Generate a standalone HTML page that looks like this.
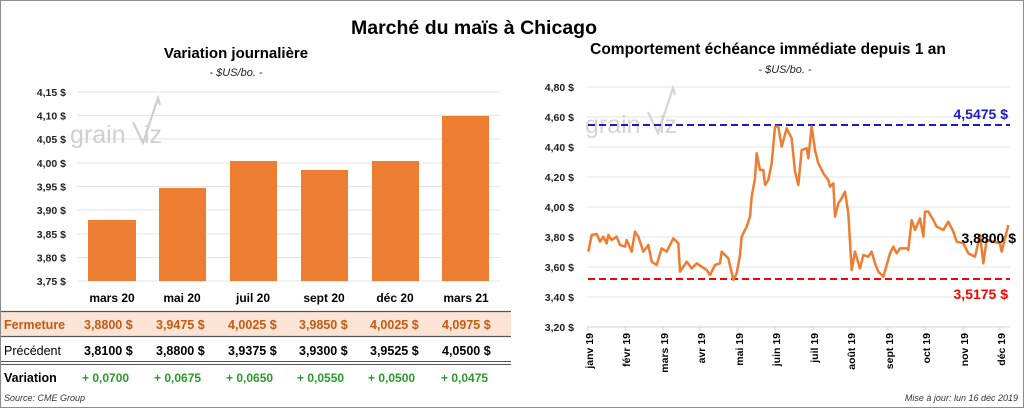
<!DOCTYPE html>
<html><head><meta charset="utf-8"><style>
body{margin:0;background:#fff}
svg{display:block;font-family:"Liberation Sans",sans-serif}
</style></head><body>
<svg width="1024" height="408" viewBox="0 0 1024 408">
<rect x="0.5" y="0.5" width="1023" height="407" fill="#fff" stroke="#8c8c8c"/>
<text x="474" y="34" font-size="19.5" font-weight="bold" text-anchor="middle" fill="#000">Marché du maïs à Chicago</text>
<!-- LEFT -->
<text x="236" y="58" font-size="15" font-weight="bold" text-anchor="middle">Variation  journalière</text>
<text x="236" y="76" font-size="11" font-style="italic" text-anchor="middle" fill="#222">- $US/bo. -</text>
<g stroke="#e3e3e3" stroke-width="1">
<line x1="77" x2="500" y1="92" y2="92"/><line x1="77" x2="500" y1="115.5" y2="115.5"/><line x1="77" x2="500" y1="139" y2="139"/><line x1="77" x2="500" y1="163" y2="163"/><line x1="77" x2="500" y1="186.5" y2="186.5"/><line x1="77" x2="500" y1="210" y2="210"/><line x1="77" x2="500" y1="234" y2="234"/><line x1="77" x2="500" y1="257.5" y2="257.5"/><line x1="77" x2="500" y1="281" y2="281"/>
</g>
<g font-size="10.5" font-weight="bold" text-anchor="end" fill="#222">
<text x="66" y="96">4,15 $</text><text x="66" y="119.5">4,10 $</text><text x="66" y="143">4,05 $</text><text x="66" y="167">4,00 $</text><text x="66" y="190.5">3,95 $</text><text x="66" y="214">3,90 $</text><text x="66" y="238">3,85 $</text><text x="66" y="261.5">3,80 $</text><text x="66" y="285">3,75 $</text>
</g>
<g fill="#cfcfcf"><text x="70" y="143" font-size="25">grain</text><text x="144" y="143" font-size="25">iz</text></g>
<polyline points="133,122 143,143 158,98 160,105" fill="none" stroke="#cfcfcf" stroke-width="2.2"/>
<g fill="#ed7d31">
<rect x="88" y="220" width="48" height="61"/><rect x="159" y="188" width="47" height="93"/><rect x="230" y="161" width="47" height="120"/><rect x="301" y="170" width="47" height="111"/><rect x="372" y="161" width="47" height="120"/><rect x="442" y="116" width="47" height="165"/>
</g>
<g font-size="12" font-weight="bold" text-anchor="middle">
<text x="112" y="302">mars 20</text><text x="182" y="302">mai 20</text><text x="253" y="302">juil 20</text><text x="324" y="302">sept 20</text><text x="395" y="302">déc 20</text><text x="466" y="302">mars 21</text>
</g>
<rect x="1" y="312" width="510" height="24" fill="#fbe3d5"/>
<line x1="1" x2="511" y1="311.5" y2="311.5" stroke="#555" stroke-width="1.2"/>
<line x1="1" x2="511" y1="336.5" y2="336.5" stroke="#555" stroke-width="1.2"/>
<line x1="1" x2="511" y1="361.5" y2="361.5" stroke="#555" stroke-width="1"/>
<line x1="1" x2="511" y1="364.5" y2="364.5" stroke="#555" stroke-width="1"/>
<g font-size="12.5" font-weight="bold" fill="#c55a11">
<text x="4" y="329">Fermeture</text>
<text x="84" y="329">3,8800  $</text><text x="156" y="329">3,9475  $</text><text x="228" y="329">4,0025  $</text><text x="299" y="329">3,9850  $</text><text x="370" y="329">4,0025  $</text><text x="442" y="329">4,0975  $</text>
</g>
<text x="4" y="355" font-size="12.5">Précédent</text>
<g font-size="12.5" font-weight="bold">
<text x="84" y="355">3,8100  $</text><text x="156" y="355">3,8800  $</text><text x="228" y="355">3,9375  $</text><text x="299" y="355">3,9300  $</text><text x="370" y="355">3,9525  $</text><text x="442" y="355">4,0500  $</text>
<text x="4" y="382">Variation</text>
</g>
<g font-size="12" font-weight="bold" fill="#2a9a2a">
<text x="82" y="382">+ 0,0700</text><text x="154" y="382">+ 0,0675</text><text x="226" y="382">+ 0,0650</text><text x="297" y="382">+ 0,0550</text><text x="368" y="382">+ 0,0500</text><text x="441" y="382">+ 0,0475</text>
</g>
<text x="4" y="401" font-size="9" font-style="italic" fill="#333">Source: CME Group</text>
<!-- RIGHT -->
<text x="768" y="54" font-size="15.5" font-weight="bold" text-anchor="middle">Comportement  échéance immédiate depuis 1 an</text>
<text x="785" y="73" font-size="11" font-style="italic" text-anchor="middle" fill="#222">- $US/bo. -</text>
<g stroke="#e3e3e3">
<line x1="587" x2="1010" y1="87" y2="87"/><line x1="587" x2="1010" y1="117" y2="117"/><line x1="587" x2="1010" y1="147" y2="147"/><line x1="587" x2="1010" y1="177" y2="177"/><line x1="587" x2="1010" y1="207" y2="207"/><line x1="587" x2="1010" y1="237" y2="237"/><line x1="587" x2="1010" y1="267" y2="267"/><line x1="587" x2="1010" y1="297" y2="297"/>
</g>
<line x1="587" x2="1010" y1="327" y2="327" stroke="#d0d0d0"/>
<g stroke="#d0d0d0"><line x1="588" x2="588" y1="327" y2="331"/><line x1="625" x2="625" y1="327" y2="331"/><line x1="663" x2="663" y1="327" y2="331"/><line x1="700" x2="700" y1="327" y2="331"/><line x1="738" x2="738" y1="327" y2="331"/><line x1="775" x2="775" y1="327" y2="331"/><line x1="813" x2="813" y1="327" y2="331"/><line x1="850" x2="850" y1="327" y2="331"/><line x1="888" x2="888" y1="327" y2="331"/><line x1="925" x2="925" y1="327" y2="331"/><line x1="963" x2="963" y1="327" y2="331"/><line x1="1000" x2="1000" y1="327" y2="331"/></g>
<g font-size="10.5" font-weight="bold" text-anchor="end" fill="#222">
<text x="574" y="91">4,80 $</text><text x="574" y="121">4,60 $</text><text x="574" y="151">4,40 $</text><text x="574" y="181">4,20 $</text><text x="574" y="211">4,00 $</text><text x="574" y="241">3,80 $</text><text x="574" y="271">3,60 $</text><text x="574" y="301">3,40 $</text><text x="574" y="331">3,20 $</text>
</g>
<g fill="#d4d4d4"><text x="585" y="133" font-size="25">grain</text><text x="659" y="133" font-size="25">iz</text></g>
<polyline points="648,112 658,133 673,88 675,95" fill="none" stroke="#d4d4d4" stroke-width="2.2"/>
<g font-size="10.5" font-weight="bold" text-anchor="end">
<text transform="translate(593,333) rotate(-90)">janv 19</text><text transform="translate(630,333) rotate(-90)">févr 19</text><text transform="translate(668,333) rotate(-90)">mars 19</text><text transform="translate(705,333) rotate(-90)">avr 19</text><text transform="translate(743,333) rotate(-90)">mai 19</text><text transform="translate(780,333) rotate(-90)">juin 19</text><text transform="translate(818,333) rotate(-90)">juil 19</text><text transform="translate(855,333) rotate(-90)">août 19</text><text transform="translate(893,333) rotate(-90)">sept 19</text><text transform="translate(930,333) rotate(-90)">oct 19</text><text transform="translate(968,333) rotate(-90)">nov 19</text><text transform="translate(1005,333) rotate(-90)">déc 19</text>
</g>
<line x1="588" x2="1010" y1="125" y2="125" stroke="#1a1acc" stroke-width="2" stroke-dasharray="7,4"/>
<line x1="588" x2="1010" y1="279" y2="279" stroke="#ff0000" stroke-width="2" stroke-dasharray="7,4"/>
<text x="1008" y="119" font-size="14" font-weight="bold" fill="#1a1acc" text-anchor="end">4,5475 $</text>
<text x="1008" y="299" font-size="14" font-weight="bold" fill="#ff0000" text-anchor="end">3,5175 $</text>
<g transform="translate(520,80) scale(0.33333)">
<polyline fill="none" stroke="#ed7d31" stroke-width="2.5" vector-effect="non-scaling-stroke" stroke-linejoin="round" points="205,515 215,465 230,462 240,485 250,470 260,490 265,465 275,480 290,470 300,495 315,500 320,480 335,515 345,455 355,470 370,515 385,495 395,545 410,555 425,505 440,515 460,475 475,490 480,575 500,545 515,565 530,550 545,560 560,570 570,585 585,555 600,550 605,515 625,535 640,600 650,580 660,525 665,470 680,440 690,410 695,350 705,295 710,220 720,270 730,270 735,315 745,300 755,250 765,140 775,140 785,200 800,145 815,175 825,275 835,315 845,210 860,205 865,235 875,140 885,210 895,250 910,280 925,300 930,320 940,310 945,410 955,370 965,355 975,335 985,400 995,570 1005,515 1020,565 1030,525 1045,530 1055,515 1065,550 1075,575 1090,590 1100,555 1110,520 1120,500 1130,520 1140,505 1160,505 1165,510 1175,420 1185,450 1200,415 1210,470 1215,395 1225,395 1240,420 1250,440 1270,450 1285,425 1300,455 1310,485 1330,490 1345,520 1365,530 1380,465 1390,550 1400,480 1420,485 1440,490 1445,515 1465,435"/>
</g>
<text x="1016" y="243" font-size="14" font-weight="bold" fill="#000" text-anchor="end">3,8800 $</text>
<text x="1018" y="401" font-size="9" font-style="italic" fill="#333" text-anchor="end">Mise à jour: lun 16 déc 2019</text>
</svg>
</body></html>
